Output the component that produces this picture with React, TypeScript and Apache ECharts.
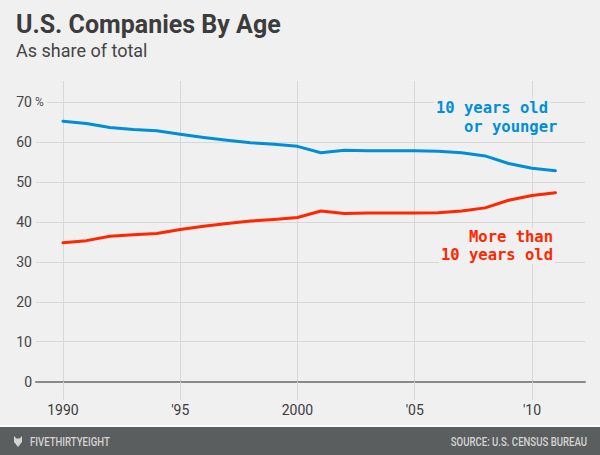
import React, { useEffect, useRef } from "react";
import * as echarts from "echarts";

const years = [1990, 1991, 1992, 1993, 1994, 1995, 1996, 1997, 1998, 1999, 2000, 2001, 2002, 2003, 2004, 2005, 2006, 2007, 2008, 2009, 2010, 2011];
const youngShare = [65.2, 64.6, 63.6, 63.1, 62.8, 61.9, 61.1, 60.4, 59.8, 59.4, 58.9, 57.3, 57.9, 57.8, 57.8, 57.8, 57.7, 57.3, 56.5, 54.6, 53.4, 52.8];
const olderShare = [34.8, 35.3, 36.4, 36.8, 37.1, 38.1, 38.9, 39.6, 40.2, 40.6, 41.1, 42.7, 42.1, 42.2, 42.2, 42.2, 42.3, 42.7, 43.5, 45.4, 46.6, 47.3];
const xTicks = [1990, 1995, 2000, 2005, 2010];
const xTickLabels = ["1990", "'95", "2000", "'05", "'10"];
const yTicks = [0, 10, 20, 30, 40, 50, 60, 70];

const BG = "#f0f0f0";
const GRIDC = "#d7d7d7";
const TXT = "#3c3c3c";

export default function App() {
  const ref = useRef<HTMLDivElement>(null);
  useEffect(() => {
    document.body.style.margin = "0";
    const chart = echarts.init(ref.current!, null, { renderer: "svg" });
    const mono = "'DejaVu Sans Mono', monospace";
    const note = (text: string, x: number, y: number, fill: string, align: string) => ({
      type: "text",
      z: 50,
      x,
      y,
      style: {
        text,
        fill,
        font: `bold 15.5px ${mono}`,
        textAlign: align,
        textVerticalAlign: "middle",
        backgroundColor: BG,
        padding: [1, 2, 1, 2],
      },
    });
    chart.setOption({
      animation: false,
      backgroundColor: BG,
      grid: { left: 36, right: 15, top: 81, bottom: 73.3, containLabel: false },
      xAxis: {
        type: "value",
        min: 1988.85,
        max: 2012.26,
        axisLine: { show: true, lineStyle: { color: "#8a8a8a", width: 2 } },
        axisTick: { show: true, length: 18, customValues: xTicks, lineStyle: { color: GRIDC, width: 1 } },
        axisLabel: {
          customValues: xTicks,
          margin: 21,
          color: TXT,
          fontSize: 14,
          fontFamily: "Roboto",
          formatter: (v: number) => xTickLabels[xTicks.indexOf(Math.round(v))] ?? "",
        },
        splitLine: { show: true, lineStyle: { color: GRIDC, width: 1 } },
      },
      yAxis: {
        type: "value",
        min: 0,
        max: 75.25,
        axisLine: { show: false },
        axisTick: { show: false, customValues: yTicks },
        axisLabel: {
          customValues: yTicks,
          margin: 4,
          color: "#444",
          fontSize: 14,
          fontFamily: "Roboto",
        },
        splitLine: { show: true, lineStyle: { color: GRIDC, width: 1 } },
      },
      series: [
        {
          name: "10 years old or younger",
          type: "line",
          data: years.map((y, i) => [y, youngShare[i]]),
          showSymbol: false,
          lineStyle: { color: "#008fd5", width: 3, join: "round", cap: "round" },
          itemStyle: { color: "#008fd5" },
          z: 3,
        },
        {
          name: "More than 10 years old",
          type: "line",
          data: years.map((y, i) => [y, olderShare[i]]),
          showSymbol: false,
          lineStyle: { color: "#ff2700", width: 3, join: "round", cap: "round" },
          itemStyle: { color: "#ff2700" },
          z: 3,
        },
      ],
      graphic: [
        {
          type: "text",
          x: 16,
          y: 12,
          style: { text: "U.S. Companies By Age", fill: TXT, font: "bold 25px Roboto" },
        },
        {
          type: "text",
          x: 16,
          y: 41,
          style: { text: "As share of total", fill: "#444", font: "18px Roboto" },
        },
        { type: "rect", z: 100, shape: { x: 33, y: 99, width: 14, height: 6 }, style: { fill: BG } },
        {
          type: "text",
          z: 101,
          x: 35,
          y: 102,
          style: { text: "%", fill: "#555", font: "12px Roboto", textVerticalAlign: "middle" },
        },
        note("10 years old", 434, 108, "#008fd5", "left"),
        note("or younger", 462, 127, "#008fd5", "left"),
        note("More than", 555, 237, "#ff2700", "right"),
        note("10 years old", 555, 255, "#ff2700", "right"),
        { type: "rect", shape: { x: 0, y: 425, width: 600, height: 2 }, style: { fill: "#fafafa" } },
        { type: "rect", shape: { x: 0, y: 427, width: 600, height: 28 }, style: { fill: "#5b5e5f" } },
        {
          type: "polygon",
          shape: { points: [[14, 436], [16.5, 438.5], [19.5, 438.5], [22, 436], [22, 442], [18, 447], [14, 442]] },
          style: { fill: "#d4d4d4" },
        },
        {
          type: "text",
          x: 30,
          y: 442,
          scaleX: 0.8,
          style: { text: "FIVETHIRTYEIGHT", fill: "#d4d4d4", font: "500 12px Roboto", textVerticalAlign: "middle" },
        },
        {
          type: "text",
          x: 587,
          y: 442,
          scaleX: 0.8,
          style: { text: "SOURCE: U.S. CENSUS BUREAU", fill: "#d4d4d4", font: "500 12px Roboto", textAlign: "right", textVerticalAlign: "middle" },
        },
      ],
    });
    return () => chart.dispose();
  }, []);
  return <div ref={ref} style={{ width: 600, height: 455 }} />;
}
